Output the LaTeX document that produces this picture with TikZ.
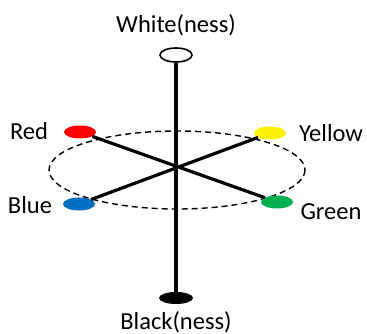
\documentclass[tikz,border=0pt]{standalone}
\usepackage{fontspec}
\setmainfont{Carlito}
\usetikzlibrary{shapes.geometric}
\tikzset{
  dot/.style={ellipse, inner sep=0pt, minimum width=32pt, minimum height=13pt},
  lbl/.style={inner sep=0pt, font=\fontsize{24.5}{28}\selectfont},
  axis/.style={line width=3.2pt},
}
\begin{document}
\begin{tikzpicture}[x=1pt,y=-1pt]
\useasboundingbox (0,0) rectangle (367,334);
\fill[white] (0,0) rectangle (367,334);
\draw[dash pattern=on 6pt off 4pt, line width=1.4pt] (177,170) ellipse [x radius=128, y radius=39];
\node[dot, draw=black, line width=1.6pt, fill=white, minimum height=14pt] (w) at (176,55) {};
\node[dot, fill=black, minimum width=34pt, minimum height=12pt] (k) at (176,298) {};
\node[dot, fill=red] (r) at (80,132) {};
\node[dot, fill=yellow] (y) at (270,133) {};
\node[dot, fill={rgb,255:red,0;green,112;blue,192}] (b) at (79,204) {};
\node[dot, fill={rgb,255:red,0;green,176;blue,80}] (g) at (277,202) {};
\draw[axis] (w) -- (k);
\draw[axis] (r) -- (g);
\draw[axis] (y) -- (b);
\node[lbl] (lw) at (176,25) {White(ness)};
\node[lbl] (lk) at (176,322) {Black(ness)};
\node[lbl] (lr) at (29,131) {Red};
\node[lbl] (ly) at (331,133) {Yellow};
\node[lbl] (lb) at (30,205) {Blue};
\node[lbl] (lg) at (331,212) {Green};
\end{tikzpicture}
\end{document}
